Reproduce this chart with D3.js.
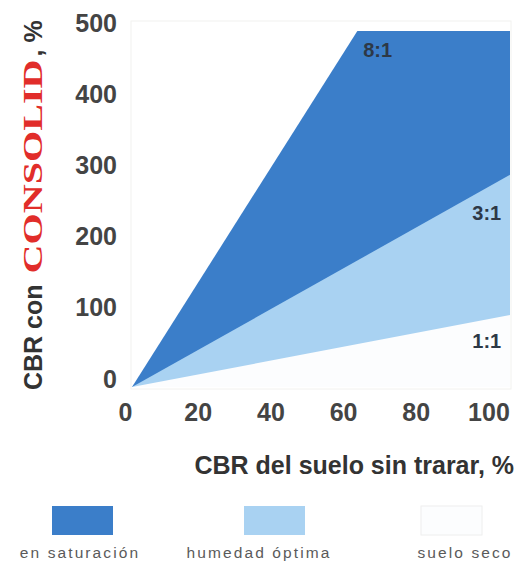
<!DOCTYPE html>
<html>
<head>
<meta charset="utf-8">
<script src="https://cdn.jsdelivr.net/npm/d3@7"></script>
<style>
  html, body { margin: 0; padding: 0; background: #ffffff; }
  svg { display: block; }
</style>
</head>
<body>
<script>
// CBR del suelo sin tratar (x) vs CBR con CONSOLID (y)
const xTicks = [0, 20, 40, 60, 80, 100];
const yTicks = [0, 100, 200, 300, 400, 500];

// Upper boundary of each zone (x = CBR suelo, y = CBR con CONSOLID)
const saturacionX = [0, 62, 104];
const saturacionY = [0, 500, 500];
const optimaX = [0, 104];
const optimaY = [0, 298];
const secoX = [0, 104];
const secoY = [0, 101];

const ratioLabels = ["8:1", "3:1", "1:1"];
const ratioAtX = [67.6, 97.6, 97.6];
const ratioAtY = [474, 245, 64];

const zoneNames = ["en saturación", "humedad óptima", "suelo seco"];
const zoneColors = ["#3b7ec9", "#a9d2f2", "#fcfdfe"];

const W = 522, H = 566;
const SANS = "Liberation Sans, Arial, sans-serif";
const svg = d3.select("body").append("svg").attr("width", W).attr("height", H);

const x = d3.scaleLinear().domain([0, 104]).range([132, 510]);
const y = d3.scaleLinear().domain([0, 500]).range([387, 31]);

// plot frame
svg.append("rect")
  .attr("x", x(0) - 1).attr("y", y(500) - 10)
  .attr("width", x(104) - x(0) + 2).attr("height", y(0) - y(500) + 12)
  .attr("fill", "#ffffff").attr("stroke", "#f2f2ef").attr("stroke-width", 1);

const area = d3.area().x(d => x(d[0])).y0(y(0)).y1(d => y(d[1]));
const zones = [
  d3.zip(saturacionX, saturacionY),
  d3.zip(optimaX, optimaY),
  d3.zip(secoX, secoY)
];
svg.append("g").selectAll("path").data(zones).join("path")
  .attr("d", area)
  .attr("fill", (d, i) => zoneColors[i]);

// ratio labels
svg.append("g").selectAll("text").data(ratioLabels).join("text")
  .attr("x", (d, i) => x(ratioAtX[i]))
  .attr("y", (d, i) => y(ratioAtY[i]))
  .attr("text-anchor", "middle")
  .attr("dominant-baseline", "central")
  .attr("font-family", SANS)
  .attr("font-weight", "bold")
  .attr("font-size", 20)
  .attr("fill", "#2d3846")
  .text(d => d);

// axes
const tickFont = g => g.selectAll("text")
  .attr("font-family", SANS)
  .attr("font-weight", "bold")
  .attr("font-size", 25)
  .attr("fill", "#444");

const xAxis = svg.append("g")
  .attr("transform", `translate(0,${y(0)})`)
  .call(d3.axisBottom(x).tickValues(xTicks).tickSize(0).tickPadding(16));
xAxis.select(".domain").remove();
xAxis.call(tickFont);
xAxis.selectAll("text").attr("dx", -7);

const yAxis = svg.append("g")
  .attr("transform", `translate(117,0)`)
  .call(d3.axisLeft(y).tickValues(yTicks).tickSize(0).tickPadding(0));
yAxis.select(".domain").remove();
yAxis.call(tickFont);
yAxis.selectAll("text").attr("transform", "translate(0,-8)");

// x title
svg.append("text")
  .attr("x", 514).attr("y", 474)
  .attr("text-anchor", "end")
  .attr("font-family", SANS)
  .attr("font-weight", "bold")
  .attr("font-size", 25)
  .attr("fill", "#333")
  .text("CBR del suelo sin trarar, %");

// y title: three pieces laid end to end along the rotated axis
const yTitle = svg.append("g").attr("transform", "translate(42,390) rotate(-90)");
const parts = [
  { t: "CBR con", font: SANS, size: 25, fill: "#333", len: null, gap: 11 },
  { t: "CONSOLID", font: "Liberation Serif, Times New Roman, serif", size: 27, fill: "#e12d2a", len: 214, gap: 3 },
  { t: ", %", font: SANS, size: 25, fill: "#333", len: null, gap: 0 }
];
let pos = 0;
parts.forEach(p => {
  const el = yTitle.append("text")
    .attr("x", pos)
    .attr("y", 0)
    .attr("font-family", p.font)
    .attr("font-weight", "bold")
    .attr("font-size", p.size)
    .attr("fill", p.fill)
    .text(p.t);
  if (p.len) el.attr("textLength", p.len).attr("lengthAdjust", "spacingAndGlyphs");
  pos += (p.len || el.node().getComputedTextLength()) + p.gap;
});

// legend
const legendX = [83, 275, 452];
const legendTextX = [80, 259, 465];
const lg = svg.append("g").selectAll("g").data(zoneNames).join("g");
lg.append("rect")
  .attr("x", (d, i) => legendX[i] - 31).attr("y", 506)
  .attr("width", 61).attr("height", 29)
  .attr("fill", (d, i) => zoneColors[i])
  .attr("stroke", (d, i) => i === 2 ? "#eeeeee" : "none");
lg.append("text")
  .attr("x", (d, i) => legendTextX[i])
  .attr("y", 558)
  .attr("text-anchor", "middle")
  .attr("font-family", SANS)
  .attr("font-size", 15.5)
  .attr("letter-spacing", 2.1)
  .attr("fill", "#5a5a5a")
  .text(d => d);
</script>
</body>
</html>
